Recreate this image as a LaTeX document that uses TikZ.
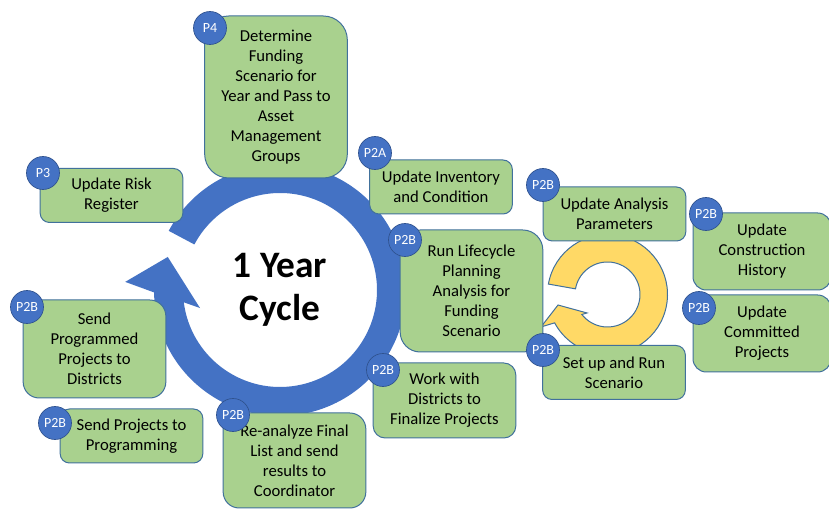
\documentclass[tikz,border=0pt]{standalone}
\usepackage{fontspec}
\setmainfont{Carlito}

\definecolor{boxgreen}{HTML}{A9D18E}
\definecolor{edgeblue}{HTML}{41719C}
\definecolor{ringblue}{HTML}{4472C4}
\definecolor{tagedge}{HTML}{2F528F}
\definecolor{ringyellow}{HTML}{FFD966}

\begin{document}
\begin{tikzpicture}[x=0.75pt, y=0.75pt,
                box/.style={draw=edgeblue, line width=0.75pt, fill=boxgreen, rounded corners=7pt,
                            align=center, inner sep=0pt, minimum width=107pt, minimum height=40.5pt,
                            font=\fontsize{12.5}{15}\selectfont},
                badge/.style={circle, draw=tagedge, line width=0.5pt, fill=ringblue, text=white,
                              inner sep=0pt, minimum size=24.75pt, font=\fontsize{10.5}{12}\selectfont}]

                \useasboundingbox[fill=white] (0,0) rectangle (829,510);

                % big yearly cycle arrow
                \begin{scope}[shift={(280,220)}]
                    \fill[ringblue] (152:126) arc[start angle=152, end angle=-178.9, radius=126]
                        -- (177:155) -- (163.6:117) -- (192.7:82) -- (187.3:97)
                        arc[start angle=187.3, end angle=512, radius=97] -- cycle;
                    \node (cycle) [font=\fontsize{28}{32}\selectfont\bfseries, align=center] {1 Year\\Cycle};
                \end{scope}

                % small loop between the analysis steps
                \begin{scope}[shift={(607.5,215.5)}]
                    \filldraw[fill=ringyellow, draw=edgeblue, line width=0.75pt]
                        (170:60) arc[start angle=170, end angle=-151.8, radius=60]
                        -- (206:74) -- (192:50.6) -- (222:27.6) -- (218:32.5)
                        arc[start angle=218, end angle=530, radius=32.5] -- cycle;
                \end{scope}

                % steps
                \node (fund) [box, minimum height=121.5pt, rounded corners=18pt] at (276,413)
                    {Determine\\Funding\\Scenario for\\Year and Pass to\\Asset\\Management\\Groups};
                \node (risk) [box] at (111.5,314.5) {Update Risk\\Register};
                \node (inv) [box] at (441,323) {Update Inventory\\and Condition};
                \node (run) [box, minimum height=91.5pt, rounded corners=15pt] at (471.5,219)
                    {Run Lifecycle\\Planning\\Analysis for\\Funding\\Scenario};
                \node (work) [box, minimum height=56.25pt, rounded corners=9pt] at (444.5,109.5)
                    {Work with\\Districts to\\Finalize Projects};
                \node (param) [box] at (614.5,296) {Update Analysis\\Parameters};
                \node (hist) [box, minimum width=103.5pt, minimum height=57.75pt, rounded corners=10pt] at (762,258.5)
                    {Update\\Construction\\History};
                \node (comm) [box, minimum width=103.5pt, minimum height=57.75pt, rounded corners=10pt] at (762,176.5)
                    {Update\\Committed\\Projects};
                \node (setup) [box] at (614,137.5) {Set up and Run\\Scenario};
                \node (prog) [box, minimum height=73.5pt, rounded corners=12pt] at (94.5,161)
                    {Send\\Programmed\\Projects to\\Districts};
                \node (send) [box] at (131.5,74) {Send Projects to\\Programming};
                \node (final) [box, minimum height=71.25pt, rounded corners=12pt] at (294.5,49.5)
                    {Re-analyze Final\\List and send\\results to\\Coordinator};

                % phase tags
                \node (fundP) [badge] at (210,482) {P4};
                \node (riskP) [badge] at (43,337) {P3};
                \node (invP) [badge] at (375,357) {P2A};
                \node (runP) [badge] at (405,270) {P2B};
                \node (workP) [badge] at (383,140) {P2B};
                \node (paramP) [badge] at (543,325) {P2B};
                \node (histP) [badge] at (706,296) {P2B};
                \node (commP) [badge] at (699,202) {P2B};
                \node (setupP) [badge] at (543,160) {P2B};
                \node (progP) [badge] at (27,203) {P2B};
                \node (sendP) [badge] at (55,87) {P2B};
                \node (finalP) [badge] at (233,95) {P2B};

\end{tikzpicture}
\end{document}
